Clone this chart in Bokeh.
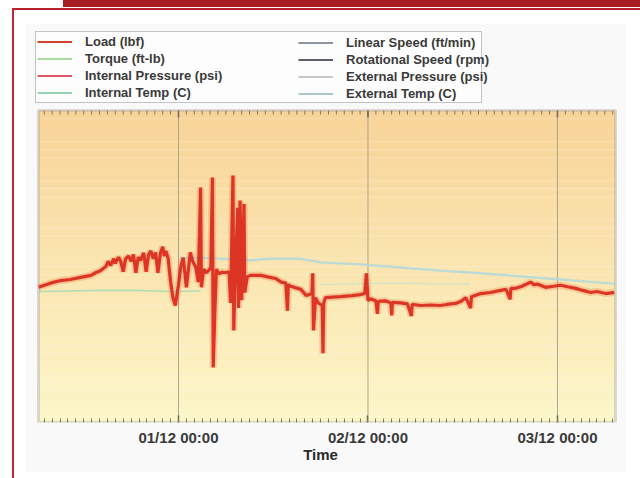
import numpy as np
import pandas as pd
from bokeh.plotting import figure
from bokeh.models import (Range1d, FixedTicker, DatetimeTickFormatter,
                          Legend, LegendItem, BoxAnnotation, ColumnDataSource)
from bokeh.embed import file_html
from bokeh.resources import INLINE

# ---------------- data ----------------
T0 = pd.Timestamp("2010-11-30 00:00")      # hours below are counted from here
view_start_h = 6.27
view_end_h = 79.35

load_hours = [
    6.27, 7.2, 8.0, 9.1, 10.3, 11.6, 12.9, 13.5, 14.1, 14.8,
    15.1, 15.4, 15.8, 16.0, 16.4, 16.7, 17.0, 17.3, 17.7, 18.0,
    18.3, 18.6, 18.9, 19.2, 19.6, 19.9, 20.2, 20.5, 20.8, 21.1,
    21.4, 21.7, 22.0, 22.2, 22.4, 22.7, 23.0, 23.3, 23.6, 23.8,
    24.0, 24.3, 24.6, 25.0, 25.5, 25.8, 26.2, 26.5, 26.8, 26.9,
    27.2, 27.5, 27.8, 28.1, 28.3, 28.4, 28.6, 28.8, 29.1, 29.5,
    30.0, 30.4, 30.6, 30.9, 31.0, 31.2, 31.5, 31.6, 31.8, 32.0,
    32.3, 32.4, 32.7, 33.1, 34.4, 35.3, 36.3, 37.0, 37.6, 37.8,
    37.9, 38.2, 39.5, 40.2, 40.9, 41.0, 41.1, 41.35, 41.7, 42.2,
    42.3, 42.4, 42.6, 44.5, 46.0, 47.0, 47.6, 47.8, 48.0, 48.3,
    49.0, 49.2, 49.3, 50.2, 50.9, 51.0, 51.1, 52.1, 53.0, 53.5,
    53.6, 54.7, 56.0, 57.2, 58.0, 59.1, 59.8, 60.4, 61.0, 61.1,
    62.3, 63.5, 64.8, 65.5, 66.0, 66.1, 66.7, 67.5, 68.6, 69.0,
    69.5, 70.5, 71.5, 72.4, 73.3, 74.3, 75.2, 76.2, 77.0, 78.1,
    79.2,
]
load_lbf = [
    2600, 2650, 2690, 2730, 2750, 2790, 2830, 2880, 2920, 3000,
    3100, 3020, 3150, 3060, 3180, 3090, 2900, 3150, 3200, 3100,
    3230, 2880, 3180, 3120, 3260, 2900, 3220, 3300, 3150, 3270,
    2880, 3250, 3380, 3200, 3300, 3150, 2700, 2400, 2250, 2450,
    2650, 3000, 3170, 2600, 3270, 3100, 2980, 2700, 4520, 2600,
    2950, 2880, 2920, 2980, 4710, 1060, 2100, 2950, 2860, 2890,
    2880, 2900, 2300, 4750, 1770, 2900, 4130, 2200, 4270, 2350,
    4200, 2500, 2800, 2830, 2830, 2800, 2770, 2700, 2680, 2150,
    2650, 2620, 2560, 2440, 2480, 2870, 1770, 2400, 2300, 2250,
    1330, 2300, 2400, 2420, 2440, 2460, 2480, 2870, 2350, 2380,
    2340, 2090, 2330, 2340, 2300, 2060, 2310, 2300, 2280, 2050,
    2270, 2250, 2260, 2250, 2270, 2290, 2330, 2400, 2200, 2420,
    2480, 2500, 2540, 2560, 2370, 2580, 2580, 2620, 2700, 2650,
    2660, 2600, 2620, 2640, 2610, 2580, 2540, 2500, 2520, 2480,
    2500,
]

ext_temp_hours = [24.25, 26.79, 33.12, 35.65, 39.45, 41.98, 47.05, 52.12,
                  57.18, 62.25, 67.31, 72.38, 77.45, 79.22]
ext_temp_c = [31.5, 31.7, 31.2, 31.5, 31.5, 30.8, 30.4, 29.8,
              29.2, 28.7, 28.1, 27.5, 26.9, 26.7]

int_temp_hours = [6.27, 10.3, 14.12, 18.6, 22.99, 26.79]
int_temp_c = [25.2, 25.3, 25.4, 25.4, 25.2, 25.3]

torque_hours = [41.98, 47.0, 52.12, 57.2, 60.98]
torque_ftlb = [265, 267, 268, 266, 266]

legend_left = ["Load (lbf)", "Torque (ft-lb)", "Internal Pressure (psi)", "Internal Temp (C)"]
legend_right = ["Linear Speed (ft/min)", "Rotational Speed (rpm)", "External Pressure (psi)", "External Temp (C)"]
legend_left_colors = ["#d2402f", "#a9dca0", "#e05868", "#98d4b4"]
legend_right_colors = ["#8c94a0", "#5e5e6a", "#c8c8c8", "#aac6c8"]

tick_days = ["2010-12-01", "2010-12-02", "2010-12-03"]

LOAD_MAX = 6000.0     # lbf at the top of the plot box
TEMP_MAX = 60.0       # degC at the top of the plot box
TORQUE_MAX = 600.0    # ft-lb at the top of the plot box


# ---------------- helpers ----------------
def to_time(hours):
    return T0 + pd.to_timedelta(np.asarray(hours, dtype=float), unit="h")


def to_ms(ts):
    return (pd.Timestamp(ts) - pd.Timestamp("1970-01-01")).total_seconds() * 1000.0


# ---------------- layout geometry (pixels) ----------------
W, H = 640, 478
BOX_L, BOX_R, BOX_T, BOX_B = 38, 615, 110, 422   # plot box inside the canvas
x_start = T0 + pd.Timedelta(hours=view_start_h)
x_end = T0 + pd.Timedelta(hours=view_end_h)
ms0, ms1 = to_ms(x_start), to_ms(x_end)
ms_per_px = (ms1 - ms0) / (BOX_R - BOX_L)
y_per_px = LOAD_MAX / (BOX_B - BOX_T)
frame_top = LOAD_MAX * BOX_B / (BOX_B - BOX_T)

page_bg = ("linear-gradient(#c2262e,#c2262e) 12px 8px / 2px 470px no-repeat, "
           "linear-gradient(#b7222b,#b7222b) 12px 8px / 628px 2px no-repeat, "
           "linear-gradient(#a81d22,#a81d22) 63px 0px / 577px 7px no-repeat, "
           "linear-gradient(#f9f9fa,#f9f9fa) 26px 24px / 600px 448px no-repeat, #ffffff")

p = figure(width=W, height=H, x_axis_type="datetime",
           x_range=Range1d(ms0 - BOX_L * ms_per_px, ms1 + (W - BOX_R) * ms_per_px),
           y_range=Range1d(0, frame_top), y_axis_location=None,
           output_backend="svg", toolbar_location=None,
           min_border_left=0, min_border_right=0,
           min_border_top=0, min_border_bottom=H - BOX_B,
           styles={"background": page_bg})
p.extra_y_ranges = {"temp": Range1d(0, TEMP_MAX * BOX_B / (BOX_B - BOX_T)),
                    "torque": Range1d(0, TORQUE_MAX * BOX_B / (BOX_B - BOX_T))}
p.border_fill_alpha = 0
p.background_fill_alpha = 0
p.outline_line_color = None
p.xgrid.visible = False
p.ygrid.visible = False

# gradient background of the plot box (style only)
nb = 40
top_c = np.array([249, 212, 152])
bot_c = np.array([253, 247, 202])
for i in range(nb):
    f = (i + 0.5) / nb
    c = (bot_c + (top_c - bot_c) * f).astype(int)
    p.add_layout(BoxAnnotation(left=ms0, right=ms1,
                               bottom=LOAD_MAX * i / nb, top=LOAD_MAX * (i + 1) / nb,
                               fill_color="#%02x%02x%02x" % tuple(c), fill_alpha=1,
                               line_alpha=0, level="underlay"))

major = [to_ms(d) for d in tick_days]
minor = [to_ms(t) for t in pd.date_range(x_start.ceil("h"), x_end, freq="h")]
ticker = FixedTicker(ticks=major, minor_ticks=minor)
fmt = "%d/%m %H:%M"
formatter = DatetimeTickFormatter(milliseconds=fmt, seconds=fmt, minsec=fmt, minutes=fmt,
                                  hourmin=fmt, hours=fmt, days=fmt, months=fmt, years=fmt)

# vertical day grid lines inside the box
p.segment(x0=major, y0=[0] * len(major), x1=major, y1=[LOAD_MAX] * len(major),
          line_color="#a39d8d", line_width=1, line_alpha=0.9)

# bottom axis
xa = p.xaxis[0]
xa.ticker = ticker
xa.formatter = formatter
xa.axis_line_color = None
xa.major_tick_in = 7
xa.major_tick_out = 0
xa.minor_tick_in = 4
xa.minor_tick_out = 0
xa.major_tick_line_color = "#6a6860"
xa.major_tick_line_width = 1.5
xa.minor_tick_line_color = "#7a776e"
xa.axis_label = "Time"
xa.axis_label_text_font = "Liberation Sans"
xa.axis_label_text_font_style = "bold"
xa.axis_label_text_font_size = "15px"
xa.axis_label_text_color = "#2a2a2a"
xa.axis_label_standoff = -3
xa.major_label_text_font = "Liberation Sans"
xa.major_label_text_font_style = "bold"
xa.major_label_text_font_size = "15px"
xa.major_label_text_color = "#3a3a3a"
xa.major_label_standoff = 6

# tick marks along the top edge of the box
p.segment(x0=minor, y0=[LOAD_MAX] * len(minor), x1=minor,
          y1=[LOAD_MAX - 4 * y_per_px] * len(minor), line_color="#7a776e", line_width=1)
p.segment(x0=major, y0=[LOAD_MAX] * len(major), x1=major,
          y1=[LOAD_MAX - 7 * y_per_px] * len(major), line_color="#6a6860", line_width=1.5)

# series
src_it = ColumnDataSource(dict(t=to_time(int_temp_hours), v=int_temp_c))
p.line("t", "v", source=src_it, y_range_name="temp", line_color="#b3dcb6", line_width=1.6)
src_tq = ColumnDataSource(dict(t=to_time(torque_hours), v=torque_ftlb))
p.line("t", "v", source=src_tq, y_range_name="torque", line_color="#cfe4c4", line_width=1.2)
src_et = ColumnDataSource(dict(t=to_time(ext_temp_hours), v=ext_temp_c))
p.line("t", "v", source=src_et, y_range_name="temp", line_color="#b2d8da", line_width=2.4,
       line_alpha=0.85)

src_load = ColumnDataSource(dict(t=to_time(load_hours), v=load_lbf))
p.line("t", "v", source=src_load, line_color="#ef6a3a", line_width=7, line_alpha=0.28)
p.line("t", "v", source=src_load, line_color="#d9261a", line_width=3.2, line_alpha=0.9)

# plot-box border
p.add_layout(BoxAnnotation(left=ms0, right=ms1, bottom=0, top=LOAD_MAX,
                           fill_alpha=0, line_color="#8e8b82", line_width=3, level="overlay"))

# legend: sample lines come from renderers that hold no visible points
def legend_items(labels, colors):
    items = []
    for lab, col in zip(labels, colors):
        r = p.line(x=[ms0, ms1], y=[-1e6, -1e6], line_color=col, line_width=1.8)
        items.append(LegendItem(label=lab, renderers=[r]))
    return items


common = dict(label_text_font="Liberation Sans", label_text_font_style="bold",
              label_text_font_size="13px", label_text_color="#3a3a3a",
              glyph_width=35, glyph_height=17, label_height=17, label_standoff=13,
              spacing=0, padding=1, margin=0)
leg_y = BOX_B - 103
leg1 = Legend(items=legend_items(legend_left, legend_left_colors), location=(35, leg_y),
              border_line_color="#8a8a8a", border_line_width=1.5,
              background_fill_color="#fdfdfd", background_fill_alpha=1,
              label_width=395, **common)
leg2 = Legend(items=legend_items(legend_right, legend_right_colors), location=(297, leg_y),
              border_line_alpha=0, background_fill_alpha=0, **common)
p.add_layout(leg1)
p.add_layout(leg2)

open("out.html", "w").write(file_html(p, INLINE))
